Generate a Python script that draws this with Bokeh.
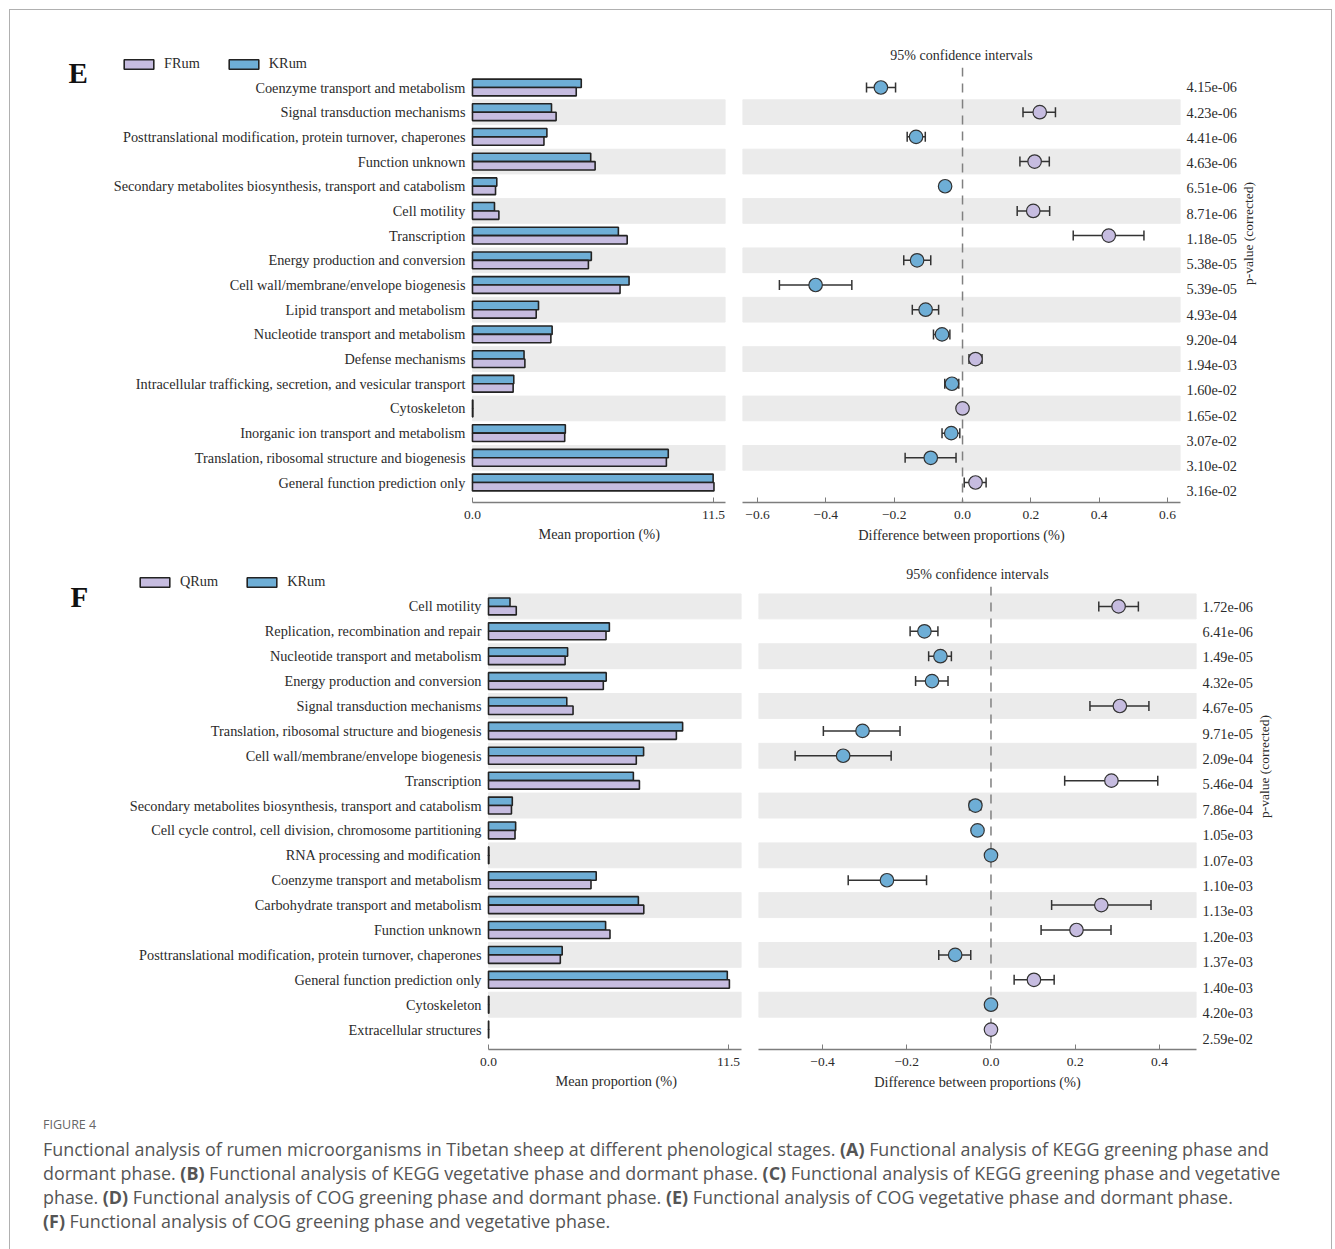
import math
from bokeh.plotting import figure
from bokeh.models import (Range1d, LinearAxis, FixedTicker, CustomJSTickFormatter,
                          ColumnDataSource, Whisker, TeeHead, Span, Label, Legend,
                          LegendItem, Div, InlineStyleSheet, Title, Plot)
from bokeh.core.properties import value
from bokeh.layouts import column, row
from bokeh.transform import dodge
from bokeh.embed import file_html
from bokeh.resources import INLINE

# ---------------- panel E : FRum vs KRum ----------------
e_categories = [
    "Coenzyme transport and metabolism",
    "Signal transduction mechanisms",
    "Posttranslational modification, protein turnover, chaperones",
    "Function unknown",
    "Secondary metabolites biosynthesis, transport and catabolism",
    "Cell motility",
    "Transcription",
    "Energy production and conversion",
    "Cell wall/membrane/envelope biogenesis",
    "Lipid transport and metabolism",
    "Nucleotide transport and metabolism",
    "Defense mechanisms",
    "Intracellular trafficking, secretion, and vesicular transport",
    "Cytoskeleton",
    "Inorganic ion transport and metabolism",
    "Translation, ribosomal structure and biogenesis",
    "General function prediction only",
]
e_frum = [4.95, 3.99, 3.41, 5.85, 1.10, 1.26, 7.38, 5.53, 7.04, 3.04, 3.74, 2.50, 1.94, 0.02, 4.40, 9.25, 11.52]
e_krum = [5.19, 3.77, 3.55, 5.64, 1.16, 1.05, 6.96, 5.67, 7.47, 3.15, 3.80, 2.46, 1.97, 0.02, 4.43, 9.34, 11.48]
e_diff = [-0.239, 0.226, -0.136, 0.211, -0.051, 0.207, 0.428, -0.133, -0.430, -0.108, -0.060,
          0.038, -0.031, 0.000, -0.033, -0.093, 0.038]
e_low = [-0.281, 0.177, -0.162, 0.168, -0.056, 0.160, 0.324, -0.172, -0.536, -0.147, -0.085,
         0.019, -0.052, 0.000, -0.060, -0.168, 0.005]
e_high = [-0.196, 0.272, -0.109, 0.254, -0.046, 0.255, 0.531, -0.093, -0.324, -0.070, -0.037,
          0.057, -0.011, 0.000, -0.008, -0.019, 0.069]
e_enriched = ["KRum", "FRum", "KRum", "FRum", "KRum", "FRum", "FRum", "KRum", "KRum", "KRum",
              "KRum", "FRum", "KRum", "FRum", "KRum", "KRum", "FRum"]
e_pvalues = ["4.15e-06", "4.23e-06", "4.41e-06", "4.63e-06", "6.51e-06", "8.71e-06", "1.18e-05",
             "5.38e-05", "5.39e-05", "4.93e-04", "9.20e-04", "1.94e-03", "1.60e-02", "1.65e-02",
             "3.07e-02", "3.10e-02", "3.16e-02"]

# ---------------- panel F : QRum vs KRum ----------------
f_categories = [
    "Cell motility",
    "Replication, recombination and repair",
    "Nucleotide transport and metabolism",
    "Energy production and conversion",
    "Signal transduction mechanisms",
    "Translation, ribosomal structure and biogenesis",
    "Cell wall/membrane/envelope biogenesis",
    "Transcription",
    "Secondary metabolites biosynthesis, transport and catabolism",
    "Cell cycle control, cell division, chromosome partitioning",
    "RNA processing and modification",
    "Coenzyme transport and metabolism",
    "Carbohydrate transport and metabolism",
    "Function unknown",
    "Posttranslational modification, protein turnover, chaperones",
    "General function prediction only",
    "Cytoskeleton",
    "Extracellular structures",
]
f_qrum = [1.33, 5.63, 3.67, 5.50, 4.05, 9.00, 7.08, 7.23, 1.10, 1.27, 0.02, 4.91, 7.44, 5.82, 3.44, 11.54, 0.02, 0.01]
f_krum = [1.03, 5.79, 3.79, 5.64, 3.75, 9.30, 7.43, 6.94, 1.14, 1.30, 0.02, 5.16, 7.18, 5.61, 3.53, 11.44, 0.02, 0.01]
f_diff = [0.303, -0.158, -0.120, -0.140, 0.306, -0.305, -0.351, 0.286, -0.037, -0.032, 0.000,
          -0.247, 0.262, 0.203, -0.085, 0.102, 0.000, 0.000]
f_low = [0.256, -0.192, -0.148, -0.179, 0.235, -0.398, -0.465, 0.175, -0.051, -0.036, 0.000,
         -0.339, 0.144, 0.119, -0.124, 0.055, 0.000, 0.000]
f_high = [0.350, -0.126, -0.094, -0.102, 0.375, -0.216, -0.237, 0.396, -0.024, -0.028, 0.000,
          -0.153, 0.380, 0.285, -0.048, 0.150, 0.000, 0.000]
f_enriched = ["QRum", "KRum", "KRum", "KRum", "QRum", "KRum", "KRum", "QRum", "KRum", "KRum",
              "KRum", "KRum", "QRum", "QRum", "KRum", "QRum", "KRum", "QRum"]
f_pvalues = ["1.72e-06", "6.41e-06", "1.49e-05", "4.32e-05", "4.67e-05", "9.71e-05", "2.09e-04",
             "5.46e-04", "7.86e-04", "1.05e-03", "1.07e-03", "1.10e-03", "1.13e-03", "1.20e-03",
             "1.37e-03", "1.40e-03", "4.20e-03", "2.59e-02"]

SERIF = "Liberation Serif"
BLUE = "#6eaed6"
LAVENDER = "#c6bce0"
BAND = "#ebebeb"
EDGE = "#232323"
INK = "#2b2b2b"
AXIS = "#7d7d7d"
TEXT_SIZE = "14.3px"

fmt = CustomJSTickFormatter(code="return (tick < 0 ? '\u2212' : '') + Math.abs(tick).toFixed(1)")
CAN_UNALIGN = "frame_align" in Plot.properties()


def style_x_axis(ax):
    ax.axis_line_color = AXIS
    ax.axis_line_width = 1.5
    ax.major_tick_line_color = AXIS
    ax.major_tick_in = 5
    ax.major_tick_out = 0
    ax.minor_tick_line_color = None
    ax.major_label_text_font = SERIF
    ax.major_label_text_font_size = "13.5px"
    ax.major_label_text_color = INK
    ax.major_label_standoff = 8
    ax.axis_label_text_font = SERIF
    ax.axis_label_text_font_size = TEXT_SIZE
    ax.axis_label_text_font_style = "normal"
    ax.axis_label_text_color = INK
    ax.axis_label_standoff = 5
    ax.formatter = fmt


def band_rows(n):
    return [i for i in range(n) if (n - 1 - i) % 2 == 1]


def bar_panel(cats, group_a, vals_a, vals_b, width, height, top, bottom, xr, yr,
              tag, tag_xy, legend_xy, label_shift):
    n = len(cats)
    xmax = xr[1]
    p = figure(width=width, height=height, x_range=Range1d(*xr), y_range=Range1d(*yr),
               y_axis_location=None, min_border_left=20, min_border_right=8,
               min_border_top=top, min_border_bottom=bottom,
               toolbar_location=None, output_backend="svg")
    if CAN_UNALIGN:
        p.frame_align = False
    p.grid.visible = False
    p.outline_line_color = None

    p.hbar(y=band_rows(n), left=0, right=xmax, height=1, color=BAND, level="image")

    src = ColumnDataSource(dict(y=list(range(n)), a=vals_a, b=vals_b, name=cats))
    r_b = p.hbar(y=dodge("y", -0.17, range=p.y_range), left=0, right="b", height=0.34,
                 source=src, fill_color=BLUE, line_color=EDGE, line_width=1.6)
    r_a = p.hbar(y=dodge("y", 0.17, range=p.y_range), left=0, right="a", height=0.34,
                 source=src, fill_color=LAVENDER, line_color=EDGE, line_width=1.6)

    # category names, right-aligned against the bar origin
    p.text(x=0, y="y", text="name", source=src, x_offset=-7, text_align="right",
           text_baseline="middle", text_font=value(SERIF), text_font_size=TEXT_SIZE,
           text_color=INK)

    xa = p.xaxis[0]
    style_x_axis(xa)
    xa.ticker = FixedTicker(ticks=[0, 11.5])
    xa.bounds = (0, xmax)

    # axis title placed under the bar scale rather than the whole frame
    p.add_layout(Title(text="Mean proportion (%)", align="left", offset=label_shift,
                       standoff=5, text_font=SERIF, text_font_size=TEXT_SIZE,
                       text_font_style="normal", text_color=INK), "below")

    legend = Legend(items=[LegendItem(label=group_a, renderers=[r_a]),
                           LegendItem(label="KRum", renderers=[r_b])],
                    orientation="horizontal", location=legend_xy, padding=0, margin=0,
                    spacing=25, glyph_width=37, glyph_height=12, label_height=10,
                    label_standoff=7, border_line_color=None, background_fill_alpha=0,
                    label_text_font=SERIF, label_text_font_size=TEXT_SIZE,
                    label_text_color=INK)
    p.add_layout(legend)

    p.add_layout(Label(x=tag_xy[0], y=tag_xy[1], text=tag, text_font=SERIF,
                       text_font_size="29px", text_font_style="bold", text_color="#111111",
                       text_align="left", text_baseline="middle"))
    return p


def ci_panel(cats, group_a, diff, low, high, enriched, pvals, width, height, left, right,
             top, bottom, xr, ticks, pad, prange):
    n = len(cats)
    p = figure(width=width, height=height, x_range=Range1d(*xr),
               y_range=Range1d(n - 1 + pad, -pad), y_axis_location=None,
               min_border_left=left, min_border_right=right, min_border_top=top,
               min_border_bottom=bottom, toolbar_location=None, output_backend="svg",
               x_axis_label="Difference between proportions (%)",
               title="95% confidence intervals")
    if CAN_UNALIGN:
        p.frame_align = False
    p.grid.visible = False
    p.outline_line_color = None
    p.title.align = "center"
    p.title.text_font = SERIF
    p.title.text_font_size = "14px"
    p.title.text_font_style = "normal"
    p.title.text_color = INK

    p.hbar(y=band_rows(n), left=xr[0], right=xr[1], height=1, color=BAND, level="image")
    p.add_layout(Span(location=0, dimension="height", line_color="#808080", line_width=1.5,
                      line_dash="9 7", level="underlay"))

    colors = [LAVENDER if g == group_a else BLUE for g in enriched]
    src = ColumnDataSource(dict(y=list(range(n)), d=diff, lo=low, hi=high, c=colors))
    p.add_layout(Whisker(source=src, base="y", lower="lo", upper="hi", dimension="width",
                         line_color="#333333", line_width=1.5, level="underlay",
                         lower_head=TeeHead(size=10, line_color="#333333", line_width=1.5),
                         upper_head=TeeHead(size=10, line_color="#333333", line_width=1.5)))
    p.scatter(x="d", y="y", size=13.5, fill_color="c", line_color="#333333", line_width=1.2,
              source=src)

    xa = p.xaxis[0]
    style_x_axis(xa)
    xa.ticker = FixedTicker(ticks=ticks)

    p.extra_y_ranges = {"p": Range1d(*prange)}
    pa = LinearAxis(y_range_name="p", ticker=FixedTicker(ticks=list(range(n))),
                    major_label_overrides={i: v for i, v in enumerate(pvals)},
                    axis_line_color=None, major_tick_line_color=None,
                    minor_tick_line_color=None, major_label_standoff=0,
                    major_label_text_font=SERIF, major_label_text_font_size=TEXT_SIZE,
                    major_label_text_color=INK, axis_label="p-value (corrected)",
                    axis_label_text_font=SERIF, axis_label_text_font_size="13.5px",
                    axis_label_text_font_style="normal", axis_label_text_color=INK,
                    axis_label_standoff=9)
    if "axis_label_orientation" in LinearAxis.properties():
        pa.axis_label_orientation = math.pi / 2
    p.add_layout(pa, "right")
    return p


e_bar = bar_panel(e_categories, "FRum", e_frum, e_krum, width=733, height=555, top=30,
                  bottom=53, xr=(-21.56, 12.07), yr=(16.81, -2.31), tag="E",
                  tag_xy=(-19.27, -0.57), legend_xy=(100, 430), label_shift=518)
e_ci = ci_panel(e_categories, "FRum", e_diff, e_low, e_high, e_enriched, e_pvalues,
                width=602, height=555, left=9, right=155, top=67, bottom=53,
                xr=(-0.644, 0.638), ticks=[-0.6, -0.4, -0.2, 0, 0.2, 0.4, 0.6], pad=0.81,
                prange=(16.436, -0.792))

f_bar = bar_panel(f_categories, "QRum", f_qrum, f_krum, width=749, height=545, top=5,
                  bottom=51, xr=(-22.42, 12.12), yr=(17.8, -1.845), tag="F",
                  tag_xy=(-20.03, -0.36), legend_xy=(116, 459), label_shift=535)
f_ci = ci_panel(f_categories, "QRum", f_diff, f_low, f_high, f_enriched, f_pvalues,
                width=586, height=545, left=9, right=139, top=31, bottom=51,
                xr=(-0.552, 0.488), ticks=[-0.4, -0.2, 0, 0.2, 0.4], pad=0.8,
                prange=(17.43, -0.787))

caption_html = (
    "<div style=\"font-family:'Open Sans';color:#555555;padding:8px 0 0 38px;"
    "white-space:nowrap;\">"
    "<div style=\"font-size:12.5px;line-height:24px;color:#666666;\">FIGURE 4</div>"
    "<div style=\"font-size:17.9px;line-height:24px;\">"
    "Functional analysis of rumen microorganisms in Tibetan sheep at different phenological "
    "stages. <b>(A)</b> Functional analysis of KEGG greening phase and<br>"
    "dormant phase. <b>(B)</b> Functional analysis of KEGG vegetative phase and dormant phase. "
    "<b>(C)</b> Functional analysis of KEGG greening phase and vegetative<br>"
    "phase. <b>(D)</b> Functional analysis of COG greening phase and dormant phase. "
    "<b>(E)</b> Functional analysis of COG vegetative phase and dormant phase.<br>"
    "<b>(F)</b> Functional analysis of COG greening phase and vegetative phase."
    "</div></div>"
)
caption = Div(text=caption_html, width=1335, height=149)

frame_css = InlineStyleSheet(css=(
    ":host { position: relative; }"
    ":host::after { content: ''; position: absolute; left: 9px; top: 9px; width: 1323px;"
    " height: 1240px; border: 1.5px solid #b0b0b0; border-bottom: none;"
    " box-sizing: border-box; pointer-events: none; }"
))

page = column(row(e_bar, e_ci), row(f_bar, f_ci), caption, stylesheets=[frame_css])

open("out.html", "w").write(file_html(page, INLINE))
